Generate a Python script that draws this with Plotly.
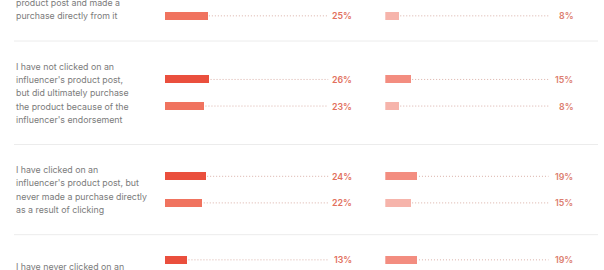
import plotly.graph_objects as go

# Survey answers (each entry is one wrapped statement, line by line)
statements = [
    ["I have clicked on an influencer's", "product post and made a", "purchase directly from it"],
    ["I have not clicked on an", "influencer's product post,", "but did ultimately purchase",
     "the product because of the", "influencer's endorsement"],
    ["I have clicked on an", "influencer's product post, but", "never made a purchase directly",
     "as a result of clicking"],
    ["I have never clicked on an", "influencer's product post"],
]

# Percent of respondents, two rows per statement in each panel
left_row1 = [27, 26, 24, 13]
left_row2 = [25, 23, 22, 12]
right_row1 = [10, 15, 19, 19]
right_row2 = [8, 8, 15, 14]

W, H = 604, 270
PX_PER_PCT = 1.7
LINE_H = 13.3
PAD = 37.0
ROW_OFF = 13.3
BAR_T = 8
TOP = -35.9
LEFT_X0 = 165
RIGHT_X0 = 385.3
AX_MAX = 110.5
LBL_X = 111.3
DOT_END = 96

COL_L1, COL_L2 = "#ea4f3d", "#f0735f"
COL_R1, COL_R2 = "#f38d80", "#f6b4ab"
COL_TXT = "#7b7b7b"
COL_LBL_L, COL_LBL_R = "#e2705d", "#dc7e6f"

# vertical layout of the statement blocks
bounds = [TOP]
for lines in statements:
    bounds.append(bounds[-1] + PAD + max(len(lines), 3) * LINE_H)
centers = [(bounds[i] + bounds[i + 1]) / 2 for i in range(len(statements))]
y1 = [c - ROW_OFF for c in centers]
y2 = [c + ROW_OFF for c in centers]

fig = go.Figure()


def add_panel(xref, v1, v2, c1, c2, lbl_col):
    for vals, ys, col in ((v1, y1, c1), (v2, y2, c2)):
        # dotted leader from bar end towards the value label
        dx, dy = [], []
        for v, y in zip(vals, ys):
            dx += [v + 0.8, DOT_END, None]
            dy += [y, y, None]
        fig.add_trace(go.Scatter(x=dx, y=dy, mode="lines", xaxis=xref, yaxis="y",
                                 line=dict(color="#d9b0a8", width=1, dash="1px,2px"),
                                 hoverinfo="skip", showlegend=False))
        fig.add_trace(go.Bar(x=vals, y=ys, orientation="h", width=BAR_T, xaxis=xref, yaxis="y",
                             marker=dict(color=col, line=dict(width=0)),
                             showlegend=False))
        for v, y in zip(vals, ys):
            fig.add_annotation(x=LBL_X, y=y, xref=xref, yref="y", text=f"{v}%",
                               showarrow=False, xanchor="right", yanchor="middle",
                               font=dict(family="Inter", size=8.8, color=lbl_col, weight=600))


add_panel("x", left_row1, left_row2, COL_L1, COL_L2, COL_LBL_L)
add_panel("x2", right_row1, right_row2, COL_R1, COL_R2, COL_LBL_R)

# statement text, one annotation per line
for lines, c in zip(statements, centers):
    first = c - (len(lines) - 1) * LINE_H / 2
    for k, t in enumerate(lines):
        fig.add_annotation(x=14 / W, y=first + k * LINE_H, xref="paper", yref="y", text=t,
                           showarrow=False, xanchor="left", yanchor="middle",
                           font=dict(family="Inter", size=8.8, color=COL_TXT))

# thin separators between statement blocks
for b in bounds[1:-1]:
    fig.add_shape(type="line", xref="paper", yref="y", x0=14 / W, x1=598 / W, y0=b, y1=b,
                  line=dict(color="#ececec", width=1), layer="below")

span = LBL_X * PX_PER_PCT
axis_common = dict(range=[0, LBL_X], showgrid=False, zeroline=False, showticklabels=False,
                   showline=False, ticks="", fixedrange=True)
fig.update_layout(
    width=W, height=H, margin=dict(l=0, r=0, t=0, b=0),
    paper_bgcolor="white", plot_bgcolor="white",
    barmode="overlay", bargap=0, barcornerradius=1,
    xaxis=dict(domain=[LEFT_X0 / W, (LEFT_X0 + span) / W], anchor="y", **axis_common),
    xaxis2=dict(domain=[RIGHT_X0 / W, (RIGHT_X0 + span) / W], anchor="y", **axis_common),
    yaxis=dict(range=[H, 0], domain=[0, 1], showgrid=False, zeroline=False,
               showticklabels=False, showline=False, ticks="", fixedrange=True),
)

fig.write_html("out.html")
